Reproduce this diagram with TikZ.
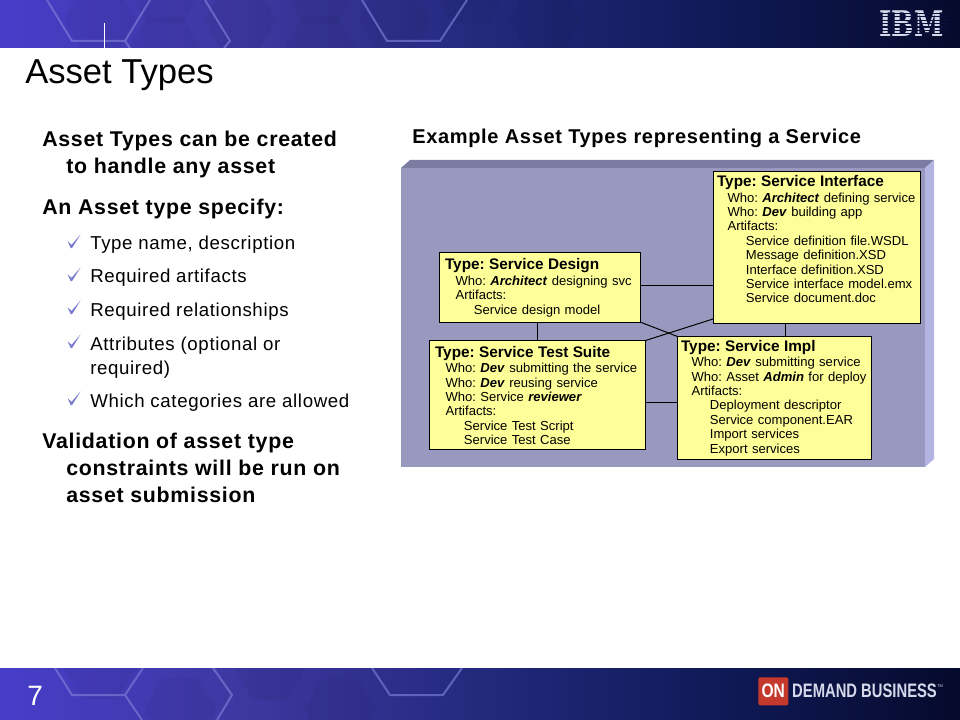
\documentclass[tikz,border=0pt]{standalone}
\usepackage{fontspec}
\setmainfont{Liberation Sans}
\newfontfamily\bodyfont[LetterSpace=3.4]{Liberation Sans}
\newfontfamily\logofont{DejaVu Serif}
\pgfdeclarehorizontalshading{bandshade}{100bp}{rgb(0bp)=(.28,.24,.79); rgb(25bp)=(.28,.24,.79); rgb(37.5bp)=(.24,.22,.63); rgb(50bp)=(.14,.16,.49); rgb(62.5bp)=(.06,.10,.34); rgb(75bp)=(.02,.04,.17); rgb(100bp)=(.02,.04,.17)}
\definecolor{panelface}{HTML}{9999BF}
\definecolor{paneltop}{HTML}{7C7CA3}
\definecolor{panelside}{HTML}{B4B4E2}
\definecolor{boxfill}{HTML}{FFFF99}
\definecolor{tickblue}{HTML}{7A7ACF}
\definecolor{hexline}{HTML}{7C80D8}
\definecolor{logogrey}{HTML}{D4D8EA}
\definecolor{logodark}{HTML}{0A0F3A}
\definecolor{onred}{HTML}{C4392B}

\newcommand{\typehead}[1]{\hspace*{\typeleft}{\fontsize{11.5}{10.8}\selectfont\bfseries #1}}
\newcommand{\whoit}[1]{\hspace*{\typeleft}\hspace*{7.9pt}#1}
\newcommand{\artit}[1]{\hspace*{\typeleft}\hspace*{21.7pt}#1}
\newcommand{\boldit}[1]{\textbf{\textit{#1}}}

\tikzset{
  typebox/.style n args={4}{draw=black,line width=.75pt,fill=boxfill,anchor=north west,inner sep=0pt,
    outer sep=0pt,align=left,text width=#1*.75pt,text height=#3*.75pt,text depth=(#2-#3)*.75pt,
    font=\fontsize{9.8}{10.8}\selectfont\frenchspacing,execute at begin node={\pgfmathsetlengthmacro\typeleft{#4*.75pt}}},
  link/.style={draw=black,line width=.75pt},
  leadline/.style={anchor=base west,inner sep=0pt,font=\bodyfont\fontsize{16}{16}\selectfont\bfseries},
  subline/.style={anchor=base west,inner sep=0pt,font=\bodyfont\fontsize{14}{14}\selectfont},
  hexstroke/.style={draw=hexline,line width=1.5pt,opacity=.65},
  bandtext/.style={anchor=base west,inner sep=0pt,text=white}
}

\begin{document}
\begin{tikzpicture}[x=.75pt,y=-.75pt]
\useasboundingbox (0,0) rectangle (960,720);

% header and footer bands
\path[shading=bandshade] (0,0) rectangle (960,48);
\path[shading=bandshade] (0,668) rectangle (960,720);

\begin{scope}
\clip (0,0) rectangle (960,48);
\foreach \Cx/\Cy in {100/20,165/-8,165/48,240/20,320/-8,320/48,395/20,470/-8,545/20} {
    \fill[black,opacity=.04] (\Cx,\Cy) +(0:36) -- +(60:36) -- +(120:36) -- +(180:36) -- +(240:36) -- +(300:36) -- cycle;
}
\draw[hexstroke] (47,0) -- (72,41) -- (125,41) -- (150,0)
                 (125,41) -- (130,48)
                 (205,0) -- (230,41) -- (224,48)
                 (362,0) -- (387,41) -- (440,41) -- (467,0);
\end{scope}
\begin{scope}
\clip (0,668) rectangle (960,720);
\foreach \Cx/\Cy in {100/668,180/710,270/668,340/710} {
    \fill[black,opacity=.04] (\Cx,\Cy) +(0:36) -- +(60:36) -- +(120:36) -- +(180:36) -- +(240:36) -- +(300:36) -- cycle;
}
\draw[hexstroke] (55,668) -- (72,695) -- (125,695) -- (143,668)
                 (125,695) -- (142,720)
                 (213,668) -- (232,695) -- (217,720)
                 (372,668) -- (390,695) -- (443,695) -- (462,668);
\end{scope}

\draw[white,line width=.75pt] (104.5,23) -- (104.5,48);

% IBM logo
\path (911.5,37) node[anchor=base,inner sep=0pt,xscale=.75,text=logogrey,font=\logofont\fontsize{26.5}{26.5}\selectfont\bfseries] (ibm) {IBM};
\foreach \Bar in {13.4,16.8,20.2,23.6,27,30.4,33.8} {
    \draw[logodark,line width=.9pt] (875,\Bar) -- (948,\Bar);
}

% footer marks
\path (27,705) node[bandtext,font=\fontsize{21}{21}\selectfont] (pagenum) {7};
\path (758,677) node[anchor=north west,inner sep=0pt,fill=onred,rounded corners=1.5pt,minimum width=22.5pt,minimum height=21pt] (onbox) {};
\path (onbox.center) node[text=white,inner sep=0pt,xscale=.8,font=\fontsize{14.6}{14.6}\selectfont\bfseries] (ontext) {ON};
\path (792,697) node[anchor=base west,inner sep=0pt,xscale=.76,text=logogrey,font=\fontsize{14.6}{14.6}\selectfont\bfseries] (demand) {DEMAND BUSINESS};
\path (937,687.5) node[anchor=base west,inner sep=0pt,text=logogrey,font=\fontsize{3}{3}\selectfont] (tm) {TM};

% title and text column
\path (25,83.7) node[anchor=base west,inner sep=0pt,font=\fontsize{25.95}{25.95}\selectfont] (title) {Asset Types};

\path (42,146.7) node[leadline] (lead1) {Asset Types can be created};
\path (66,174) node[leadline] (lead2) {to handle any asset};
\path (42,215) node[leadline] (lead3) {An Asset type specify:};
\path (90,250) node[subline] (sub1) {Type name, description};
\path (90,283) node[subline] (sub2) {Required artifacts};
\path (90,316) node[subline] (sub3) {Required relationships};
\path (90,350) node[subline] (sub4) {Attributes (optional or};
\path (90,374) node[subline] (sub5) {required)};
\path (90,407) node[subline] (sub6) {Which categories are allowed};
\path (42,448) node[leadline] (lead4) {Validation of asset type};
\path (66,475) node[leadline] (lead5) {constraints will be run on};
\path (66,502) node[leadline] (lead6) {asset submission};

\foreach \Tick in {250,283,316,350,407} {
    \fill[tickblue] (67.6,\Tick-8.6) -- (71.6,\Tick-5.2) -- (80.6,\Tick-15.6) -- (72,\Tick-1.8) -- (70.8,\Tick-1.8) -- cycle;
}

\path (412,143.5) node[anchor=base west,inner sep=0pt,font=\bodyfont\fontsize{15}{15}\selectfont\bfseries] (example) {Example Asset Types representing a Service};

% panel
\fill[panelface] (401,168) -- (925,168) -- (925,467) -- (401,467) -- cycle;
\fill[paneltop] (401,168) -- (410,160) -- (934,160) -- (925,168) -- cycle;
\fill[panelside] (925,168) -- (934,160) -- (934,459) -- (925,467) -- cycle;

% type boxes
\path (439.5,252.5) node[typebox={200.5}{69.5}{17.5}{5.5}] (design) {%
\typehead{Type: Service Design}\\[.7pt]
\whoit{Who: \boldit{Architect} designing svc}\\
\whoit{Artifacts:}\\
\artit{Service design model}};

\path (429.5,340.5) node[typebox={216}{109}{16.8}{5.5}] (suite) {%
\typehead{Type: Service Test Suite}\\[.7pt]
\whoit{Who: \boldit{Dev} submitting the service}\\
\whoit{Who: \boldit{Dev} reusing service}\\
\whoit{Who: Service \boldit{reviewer}}\\
\whoit{Artifacts:}\\
\artit{Service Test Script}\\
\artit{Service Test Case}};

\path (677.5,336.5) node[typebox={194}{122.5}{14.8}{3.5}] (impl) {%
\typehead{Type: Service Impl}\\[.7pt]
\whoit{Who: \boldit{Dev} submitting service}\\
\whoit{Who: Asset \boldit{Admin} for deploy}\\
\whoit{Artifacts:}\\
\artit{Deployment descriptor}\\
\artit{Service component.EAR}\\
\artit{Import services}\\
\artit{Export services}};

\path (713,171.5) node[typebox={207}{151.5}{15.2}{4}] (interface) {%
\typehead{Type: Service Interface}\\[.7pt]
\whoit{Who: \boldit{Architect} defining service}\\
\whoit{Who: \boldit{Dev} building app}\\
\whoit{Artifacts:}\\
\artit{Service definition file.WSDL}\\
\artit{Message definition.XSD}\\
\artit{Interface definition.XSD}\\
\artit{Service interface model.emx}\\
\artit{Service document.doc}};

\draw[link] ([yshift=1.2pt]design.east) -- ([yshift=1.2pt]design.east -| interface.west);
\draw[link] (design.south east) -- (impl.north west);
\draw[link] (suite.north east) -- ([yshift=3pt]interface.south west);
\draw[link] (suite.north) -- (suite.north |- design.south);
\draw[link] ([yshift=-5.5pt]suite.east) -- ([yshift=-5.5pt]suite.east -| impl.west);
\draw[link] ([xshift=8.1pt]impl.north) -- ([xshift=8.1pt]impl.north |- interface.south);
\end{tikzpicture}
\end{document}
